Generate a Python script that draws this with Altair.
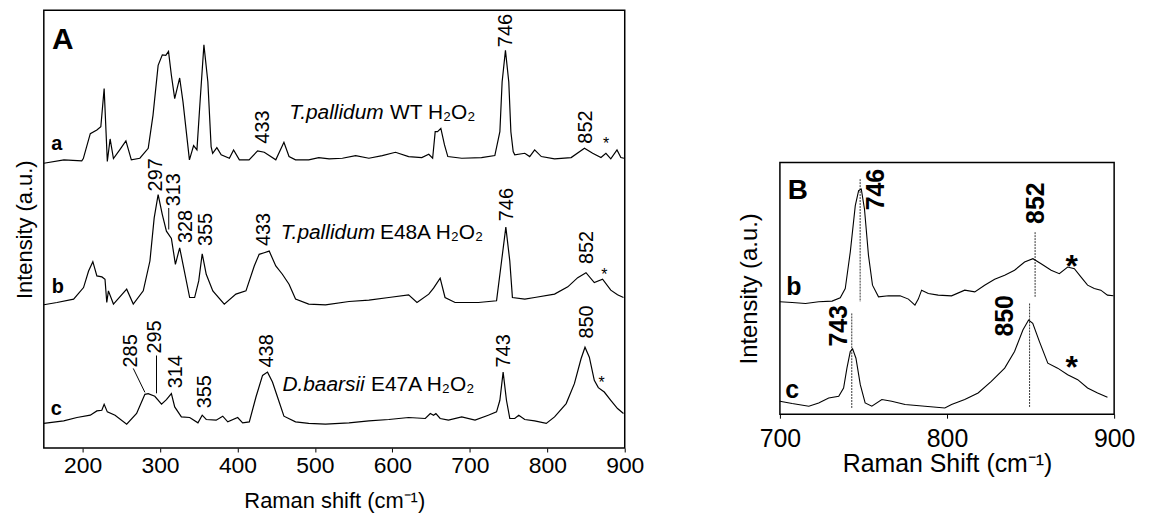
import altair as alt
import pandas as pd

FONT = "Liberation Sans"

# ---------------- Panel A spectra: (Raman shift cm-1, intensity a.u. incl. stacking offset)
spec_a = [(150, 314.3), (176, 317.7), (199, 316.7), (201, 319), (210, 344), (218.5, 347.7), (223.6, 351),
          (227.9, 389.3), (232, 316), (235.6, 338.7), (239.9, 319), (248, 327.7), (256, 336.7), (263, 317.7),
          (274, 319.3), (284.8, 329.3), (291, 362.7), (297.6, 412.7), (303, 423.3), (307.5, 422.7), (311, 426.7),
          (314.7, 402.7), (319, 379.3), (325.4, 400), (329.7, 376), (338, 317.7), (343.4, 332), (347.7, 327.7),
          (352, 379.3), (356.7, 433.3), (361.8, 396), (366, 331), (368, 324.3), (373.4, 330), (379, 322.7),
          (389.6, 319.3), (395, 327.7), (402.5, 317.7), (415, 317.7), (426, 326.7), (434.6, 325.3), (441, 322),
          (449.5, 317.7), (460, 335.3), (466.6, 321), (475, 317.7), (492, 317.7), (505, 320), (518.4, 318.7),
          (535.5, 319.3), (552.6, 322), (569.7, 319.3), (587, 322), (604, 325.3), (621, 321), (638, 320),
          (647, 323.3), (652, 319.3), (655.3, 346), (658.3, 346), (662.6, 349.3), (667.3, 332.7), (671.6, 321),
          (689.6, 319.3), (715, 320), (732.3, 322), (738.8, 346), (741.7, 396), (746, 427.7), (750.3, 396),
          (753, 346), (756, 326), (758, 322.7), (771, 324.3), (777.3, 321), (783.7, 327.7), (792.3, 321),
          (809.4, 318.7), (830.8, 320), (848, 329.3), (858.6, 324.3), (869.3, 320), (875.7, 324.3), (882, 318.7),
          (890, 327.7), (895, 320), (899, 319.3)]
spec_b = [(150, 172), (167, 174.3), (188.5, 177.7), (201.3, 189.3), (207.8, 206), (213.3, 215.3), (218.5, 201),
          (225, 200), (229, 197.7), (231.3, 174.3), (233.4, 186), (239.9, 172.7), (257, 187.7), (265.5, 172.7),
          (278.4, 186), (287, 216), (292.5, 259.3), (297.6, 282.7), (303, 262.7), (308.3, 246), (314.7, 238.7),
          (319.9, 212.7), (325.4, 229.3), (329.7, 212.7), (338.3, 179.3), (344.7, 179.3), (350, 196),
          (354.5, 223.3), (359.7, 202.7), (368.2, 186), (383, 172.7), (398, 182.7), (411, 186), (421.7, 211),
          (428, 222.7), (434.5, 224.3), (441, 226), (449.5, 211), (458, 202.7), (466.6, 192.7), (475, 177.7),
          (492, 172.7), (513.7, 172), (544, 175.3), (569.7, 176.7), (595.4, 179.3), (621, 182), (631.8, 174.3),
          (647, 182.7), (653.2, 188.7), (661.7, 198.7), (668, 179.3), (681, 174.3), (711, 174.3), (734.5, 176),
          (741, 216), (746.5, 250), (751.6, 216), (755, 179.3), (771, 177.7), (783.7, 179.3), (809.4, 182.7),
          (826.5, 190), (839.3, 199.3), (850, 204.3), (860.7, 194.3), (871.4, 197.7), (882, 186.7),
          (890.7, 182), (898.4, 179.3)]
spec_c = [(150, 52.7), (175.7, 55.3), (192.8, 58.7), (210, 61), (218.5, 65.3), (224.9, 66), (227.9, 72),
          (232, 64.3), (242, 61), (257, 52), (269.8, 62.7), (280.5, 82), (284.8, 82.7), (293.3, 80), (302, 72),
          (308.3, 76.7), (314.7, 82.7), (319, 69.3), (327.6, 59.3), (338.3, 58.7), (349, 53.3), (354.5, 61),
          (359.7, 56.7), (372.5, 56), (381, 60), (387.5, 54.3), (400.3, 58.7), (406.7, 53.3), (415.3, 54.3),
          (423.9, 79.3), (432.4, 101), (438.8, 104.3), (445.2, 94.3), (451.7, 79.3), (460, 60), (475, 54.3),
          (492, 52.7), (513.7, 52), (544, 53.3), (569.7, 55.3), (595.4, 56.7), (621, 58.7), (642.5, 57.7),
          (649, 62.7), (653.2, 61), (656.2, 62.7), (661.7, 57.7), (672.4, 56), (689.6, 59.3), (706.7, 56),
          (723.8, 61), (734.5, 64.3), (738.8, 76), (743, 104.3), (747.3, 76), (751.6, 57.7), (758, 57.7),
          (763.2, 61), (770.9, 56.7), (783.7, 55.3), (798.7, 52.7), (809.4, 59.3), (824.4, 72.7), (835, 92.7),
          (843.6, 117.7), (848.7, 129.3), (854.3, 119.3), (860.7, 96), (865.9, 88.7), (873.6, 84.3), (882, 76),
          (890.7, 67.7), (898.4, 62.7)]

# ---------------- Panel B spectra (700-900 cm-1)
specB_b = [(700, 113), (707.3, 112.3), (715.3, 111.3), (723.2, 113), (731.2, 113.7), (736.1, 117), (739.1, 126.3),
           (742.1, 163), (745.1, 209.7), (747.1, 224.7), (748.7, 226.3), (750.6, 206.3), (753, 159.7),
           (755.4, 129.7), (759, 118), (765, 119), (771.9, 119), (776.9, 115.7), (780.8, 109.7), (782.8, 115.7),
           (784.8, 124.7), (788.8, 121.3), (794.7, 119.7), (802.7, 119), (810.6, 124.7), (816.6, 123),
           (822.5, 129.7), (828.5, 135.7), (834.5, 139.7), (840.4, 144.7), (846.4, 153), (851.4, 156.3),
           (856.3, 151.3), (862.3, 144.7), (867.2, 141.3), (872.2, 148), (876.2, 146.3), (880.1, 138),
           (884.1, 129.7), (888.1, 126.3), (892, 124.7), (896, 119.7), (899.6, 119)]
specB_c = [(700, 13), (707.3, 10.7), (717.3, 8), (723.2, 11.3), (729.2, 16.3), (735.2, 18), (738.1, 26.3),
           (740.1, 46.3), (742.1, 63), (743.5, 65.7), (745.5, 56.3), (748.1, 29.7), (751, 11.3), (755, 8),
           (761, 14.7), (766.9, 13), (774.9, 9.7), (786.8, 8), (798.7, 6.3), (802.7, 9.7), (810.6, 14.7),
           (818.6, 21.3), (826.5, 33), (834.5, 46.3), (840.4, 63), (845.4, 84.7), (848.8, 94.7), (851.3, 91.3),
           (855.3, 73), (860.3, 51.3), (866.2, 46.3), (872.2, 39.7), (878.2, 34.7), (884.1, 26.3), (890.1, 21.3),
           (896, 17)]

# ---------------- Panel A annotations
peak_text_A = ["433", "852", "746", "297", "313", "328", "355", "433", "746", "852",
               "285", "295", "314", "355", "438", "743", "850"]
peak_x_A = [432.4, 849.6, 747, 295, 317.8, 333, 359.7, 434.5, 748, 851,
            263, 294, 321, 358, 438.8, 744, 851]
peak_y_A = [334, 334, 431, 286, 271, 234, 231, 231, 256, 213,
            109, 123, 88, 68, 109, 109, 138]

leader_x_A = [311.3, 265.5, 295.5]
leader_x2_A = [311.3, 280.5, 295.5]
leader_y_A = [269.3, 108, 121]
leader_y2_A = [247.7, 84, 83]

species_italic = ["T.pallidum", "T.pallidum", "D.baarsii"]
species_italic_x = [467, 455.9, 458]
species_rest = ["WT H₂O₂", "E48A H₂O₂", "E47A H₂O₂"]
species_rest_x = [597, 584, 572.5]
species_y = [358.7, 237.7, 85.3]

trace_letters = ["a", "b", "c"]
trace_letter_x_A = [166.7, 168, 166]
trace_letter_y_A = [328, 184, 61]

star_x_A = [875.8, 873.6, 870.1]
star_y_A = [328.5, 197, 88]

# ---------------- Panel B annotations
peak_text_B = ["746", "852", "743", "850"]
peak_x_B = [757.8, 853.4, 735.2, 834.5]
peak_y_B = [205, 191.3, 68, 78]

dash_x_B = [748, 852.7, 743, 849.4]
dash_y_B = [236.3, 183, 101.3, 111.3]
dash_y2_B = [113, 118, 6.3, 6.3]

trace_letters_B = ["b", "c"]
trace_letter_x_B = [708.3, 707.3]
trace_letter_y_B = [120, 16.3]

star_x_B = [874.6, 874.6]
star_y_B = [138, 36.7]


def spec_df(points, name):
    return pd.DataFrame({"x": [p[0] for p in points], "y": [p[1] for p in points], "s": name})


# ================= Panel A =================
scA_x = alt.Scale(domain=[150, 900], nice=False, zero=False)
scA_y = alt.Scale(domain=[28, 468], nice=False, zero=False)

xA_axis = alt.Axis(values=list(range(200, 901, 100)), title="Raman shift (cm⁻¹)", labelFontSize=23,
                   titleFontSize=22, tickSize=4, labelPadding=3, titlePadding=13, domain=False, grid=False,
                   tickColor="black", labelFlush=False, labelOverlap=False, format="d",
                   labelFont=FONT, titleFont=FONT, labelColor="black", titleColor="black",
                   titleFontWeight="normal")
yA_axis = alt.Axis(title="Intensity (a.u.)", labels=False, ticks=False, domain=False, grid=False,
                   titleFontSize=22, titlePadding=7, titleFont=FONT, titleColor="black",
                   titleFontWeight="normal")


def xa():
    return alt.X("x:Q", scale=scA_x, axis=xA_axis)


def ya():
    return alt.Y("y:Q", scale=scA_y, axis=yA_axis)


dfA = pd.concat([spec_df(spec_a, "a"), spec_df(spec_b, "b"), spec_df(spec_c, "c")])
linesA = alt.Chart(dfA).mark_line(color="black", strokeWidth=1.2).encode(x=xa(), y=ya(), detail="s:N")

peaksA = alt.Chart(pd.DataFrame({"t": peak_text_A, "x": peak_x_A, "y": peak_y_A})).mark_text(
    angle=270, align="left", baseline="middle", font=FONT, fontSize=20, color="black"
).encode(x=xa(), y=ya(), text="t:N")

leadersA = alt.Chart(pd.DataFrame({"x": leader_x_A, "x2": leader_x2_A, "y": leader_y_A, "y2": leader_y2_A})).mark_rule(
    color="black", strokeWidth=1
).encode(x=xa(), x2="x2:Q", y=ya(), y2="y2:Q")

spItal = alt.Chart(pd.DataFrame({"t": species_italic, "x": species_italic_x, "y": species_y})).mark_text(
    align="left", baseline="alphabetic", font=FONT, fontSize=21, fontStyle="italic", color="black"
).encode(x=xa(), y=ya(), text="t:N")
spRest = alt.Chart(pd.DataFrame({"t": species_rest, "x": species_rest_x, "y": species_y})).mark_text(
    align="left", baseline="alphabetic", font=FONT, fontSize=21, color="black"
).encode(x=xa(), y=ya(), text="t:N")

lettersA = alt.Chart(pd.DataFrame({"t": trace_letters, "x": trace_letter_x_A, "y": trace_letter_y_A})).mark_text(
    align="center", baseline="alphabetic", font=FONT, fontSize=20, fontWeight="bold", color="black"
).encode(x=xa(), y=ya(), text="t:N")

panelA = alt.Chart(pd.DataFrame({"t": ["A"], "x": [174.4], "y": [429]})).mark_text(
    align="center", baseline="alphabetic", font=FONT, fontSize=30, fontWeight="bold", color="black"
).encode(x=xa(), y=ya(), text="t:N")

starsA = alt.Chart(pd.DataFrame({"t": ["*"] * 3, "x": star_x_A, "y": star_y_A})).mark_text(
    align="center", baseline="alphabetic", font=FONT, fontSize=16, color="black"
).encode(x=xa(), y=ya(), text="t:N")

chartA = alt.layer(linesA, leadersA, peaksA, spItal, spRest, lettersA, panelA, starsA).properties(
    width=584, height=440
)

# ================= Panel B =================
scB_x = alt.Scale(domain=[700, 900], nice=False, zero=False)
scB_y = alt.Scale(domain=[0, 253], nice=False, zero=False)

xB_axis = alt.Axis(values=[700, 800, 900], title="Raman Shift (cm⁻¹)", labelFontSize=25, titleFontSize=25,
                   tickSize=4, labelPadding=8, titlePadding=1, domain=False, grid=False, tickColor="black",
                   labelFlush=False, labelOverlap=False, format="d",
                   labelFont=FONT, titleFont=FONT, labelColor="black", titleColor="black",
                   titleFontWeight="normal")
yB_axis = alt.Axis(title="Intensity (a.u.)", labels=False, ticks=False, domain=False, grid=False,
                   titleFontSize=24, titlePadding=19, titleFont=FONT, titleColor="black",
                   titleFontWeight="normal")


def xb():
    return alt.X("x:Q", scale=scB_x, axis=xB_axis)


def yb():
    return alt.Y("y:Q", scale=scB_y, axis=yB_axis)


dfB = pd.concat([spec_df(specB_b, "b"), spec_df(specB_c, "c")])
linesB = alt.Chart(dfB).mark_line(color="black", strokeWidth=1.1).encode(x=xb(), y=yb(), detail="s:N")

dashB = alt.Chart(pd.DataFrame({"x": dash_x_B, "y": dash_y_B, "y2": dash_y2_B})).mark_rule(
    color="black", strokeWidth=0.8, strokeDash=[2, 1]
).encode(x=xb(), y=yb(), y2="y2:Q")

peaksB = alt.Chart(pd.DataFrame({"t": peak_text_B, "x": peak_x_B, "y": peak_y_B})).mark_text(
    angle=270, align="left", baseline="middle", font=FONT, fontSize=25, fontWeight="bold", color="black"
).encode(x=xb(), y=yb(), text="t:N")

lettersB = alt.Chart(pd.DataFrame({"t": trace_letters_B, "x": trace_letter_x_B, "y": trace_letter_y_B})).mark_text(
    align="center", baseline="alphabetic", font=FONT, fontSize=25, fontWeight="bold", color="black"
).encode(x=xb(), y=yb(), text="t:N")

panelB = alt.Chart(pd.DataFrame({"t": ["B"], "x": [710.7], "y": [216]})).mark_text(
    align="center", baseline="alphabetic", font=FONT, fontSize=28, fontWeight="bold", color="black"
).encode(x=xb(), y=yb(), text="t:N")

starsB = alt.Chart(pd.DataFrame({"t": ["*"] * 2, "x": star_x_B, "y": star_y_B})).mark_text(
    align="center", baseline="alphabetic", font=FONT, fontSize=32, fontWeight="bold", color="black"
).encode(x=xb(), y=yb(), text="t:N")

chartB = alt.layer(linesB, dashB, peaksB, lettersB, panelB, starsB).properties(width=336, height=253)

spacer = alt.Chart(pd.DataFrame({"x": [0]})).mark_point(opacity=0).encode(
    x=alt.X("x:Q", axis=None), y=alt.Y("x:Q", axis=None)
).properties(width=336, height=152, view=alt.ViewBackground(stroke="transparent", strokeWidth=0))

right = alt.vconcat(spacer, chartB, spacing=0)

chart = alt.hconcat(chartA, right, spacing=92).properties(
    padding={"left": 5, "top": 0, "right": 5, "bottom": 5}, background="white"
).configure_view(
    stroke="black", strokeWidth=1.5
)

chart.save("out.html", embed_options={"renderer": "svg", "actions": False})
